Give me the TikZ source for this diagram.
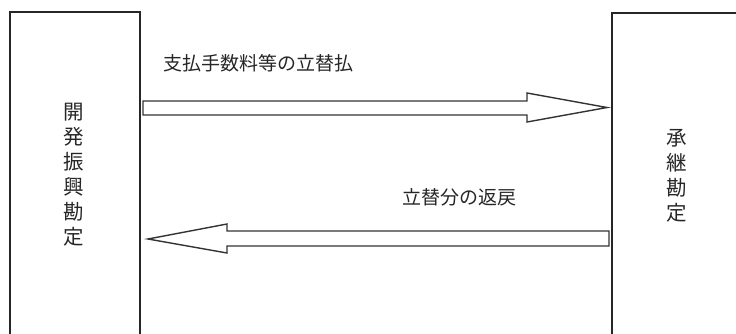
\documentclass[tikz,border=0pt]{standalone}
\usepackage{fontspec}
\newfontfamily\jp{Noto Sans CJK JP}
\begin{document}
\begin{tikzpicture}[x=1pt,y=-1pt,
  boxline/.style={line width=1.7pt, draw=black!85},
  arrowline/.style={line width=1.4pt, draw=black!80, fill=white, line join=miter},
  lbl/.style={font=\jp\fontsize{19pt}{21pt}\selectfont, text=black!85, inner sep=0pt},
  vlbl/.style={font=\jp\fontsize{20.5pt}{25pt}\selectfont, text=black!85, inner sep=0pt, align=center}]
\useasboundingbox (0,0) rectangle (736,333);
\begin{scope}
\clip (0,0) rectangle (736,333);
\draw[boxline] (10,345) -- (10,12) -- (140,12) -- (140,345);
\draw[boxline] (612,345) -- (612,13) -- (745,13);
\end{scope}
\node[vlbl] (L) at (74,175) {開\\発\\振\\興\\勘\\定};
\node[vlbl] (R) at (677,176) {承\\継\\勘\\定};
\node[lbl, anchor=west] (t1) at (163,63) {支払手数料等の立替払};
\node[lbl, anchor=west] (t2) at (402,197) {立替分の返戻};
\draw[arrowline] (143,101) -- (527,101) -- (527,93) -- (607,107.5) -- (527,122) -- (527,115) -- (143,115) -- cycle;
\draw[arrowline] (609,231) -- (227,231) -- (227,224) -- (148,239) -- (227,253) -- (227,246) -- (609,246) -- cycle;
\end{tikzpicture}
\end{document}
